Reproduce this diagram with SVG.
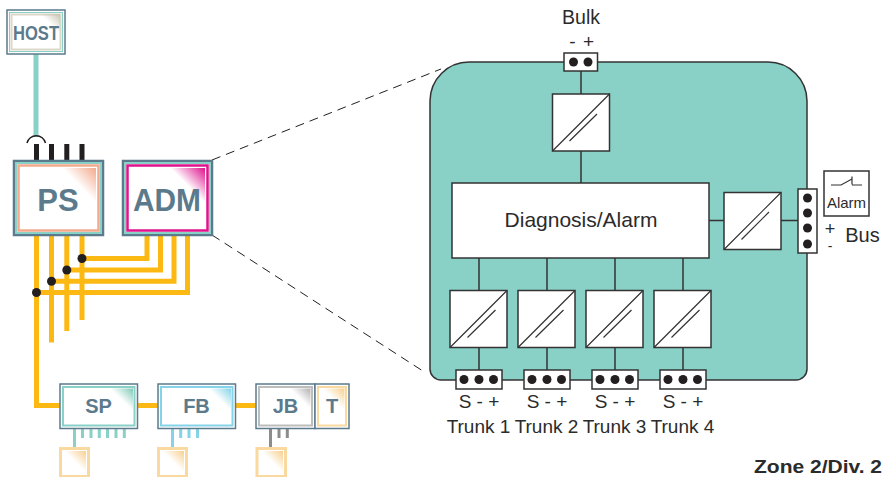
<svg xmlns="http://www.w3.org/2000/svg" width="883" height="477" viewBox="0 0 883 477">
<style>
text{font-family:"Liberation Sans",Arial,sans-serif;fill:#2b2b2b}
.lbl{font-weight:bold;fill:#5b7a8c;text-anchor:middle}
.out{fill:#fff;stroke:#5b7a8c}
.y{fill:none;stroke:#fdb913;stroke-width:5;stroke-linejoin:miter}
.k{fill:none;stroke:#333;stroke-width:1.5}
.bx{fill:#fff;stroke:#333;stroke-width:1.5}
.dg{fill:none;stroke:#333;stroke-width:1.2}
.dot{fill:#231f20}
.c{text-anchor:middle;font-size:19px}
.tr{text-anchor:middle;font-size:19px}
.tp{fill:none;stroke:#89d0c6;stroke-width:3}
.tb{fill:none;stroke:#84d3e8;stroke-width:3}
.tg{fill:none;stroke:#8c8c8c;stroke-width:3}
.sm{fill:#fff;stroke:#fad9a0;stroke-width:3}
</style>
<defs>
<linearGradient id="gS" x1="1" y1="0" x2="0.5" y2="0.5"><stop offset="0" stop-color="#f4a98c"/><stop offset="1" stop-color="#f4a98c" stop-opacity="0"/></linearGradient>
<linearGradient id="gM" x1="1" y1="0" x2="0.5" y2="0.5"><stop offset="0" stop-color="#e0128c"/><stop offset="1" stop-color="#e0128c" stop-opacity="0"/></linearGradient>
<linearGradient id="gH" x1="1" y1="0" x2="0.5" y2="0.5"><stop offset="0" stop-color="#c9c5b2"/><stop offset="1" stop-color="#c9c5b2" stop-opacity="0"/></linearGradient>
<linearGradient id="gT" x1="1" y1="0" x2="0.5" y2="0.5"><stop offset="0" stop-color="#7fc9b8"/><stop offset="1" stop-color="#7fc9b8" stop-opacity="0"/></linearGradient>
<linearGradient id="gB" x1="1" y1="0" x2="0.5" y2="0.5"><stop offset="0" stop-color="#84d3e8"/><stop offset="1" stop-color="#84d3e8" stop-opacity="0"/></linearGradient>
<linearGradient id="gG" x1="1" y1="0" x2="0.5" y2="0.5"><stop offset="0" stop-color="#b0b0b0"/><stop offset="1" stop-color="#b0b0b0" stop-opacity="0"/></linearGradient>
<linearGradient id="gO" x1="1" y1="0" x2="0.5" y2="0.5"><stop offset="0" stop-color="#f8cf8e"/><stop offset="1" stop-color="#f8cf8e" stop-opacity="0"/></linearGradient>
</defs>

<g id="connectors">
<path d="M36 54V137" fill="none" stroke="#89d0c6" stroke-width="5"/>
<path d="M27 143a9.500 9.500 0 0 1 18.500 0" fill="none" stroke="#231f20" stroke-width="1.500"/>
<path d="M36.500 144V160M51.500 144V160M66.800 144V160M82 144V160" fill="none" stroke="#231f20" stroke-width="5"/>
<path class="y" d="M36.500 235V405.500H59.500M51.500 235V342.500M66.800 235V331M82 235V320"/>
<path class="y" d="M147 235V258.500H82M160.500 235V270H66.800M174 235V281.300H51.500M187.500 235V292.500H36.500"/>
<path class="y" d="M137.500 405.500H157.500M235.500 405.500H255.500"/>
<circle class="dot" cx="82" cy="258.500" r="4.500"/><circle class="dot" cx="66.800" cy="270" r="4.500"/><circle class="dot" cx="51.500" cy="281.300" r="4.500"/><circle class="dot" cx="36.500" cy="292.500" r="4.500"/>
<path class="tp" d="M74.500 429V447M82.500 429V438M91 429V438M99.300 429V438M107.500 429V438M116 429V438M124.300 429V438"/>
<path class="tb" d="M172.500 429V447M180.700 429V438M189 429V438M197.500 429V438"/>
<path class="tg" d="M270.500 429V447M279 429V438M287.300 429V438"/>
<path d="M212 160L441 69M212 235L426 373" fill="none" stroke="#231f20" stroke-width="1" stroke-dasharray="9 6"/>
</g>

<g id="host"><rect class="out" x="7" y="10" width="58" height="44" stroke-width="1.500"/><rect x="9.500" y="12.500" width="53" height="39" fill="#fff" stroke="#89d0c6" stroke-width="1"/><rect x="11.500" y="14.500" width="49" height="35" fill="#fff" stroke="#dbd8ca" stroke-width="2"/><polygon points="40,14 60,14 60,34" fill="url(#gH)"/><text class="lbl" x="36" y="40" font-size="20" textLength="46" lengthAdjust="spacingAndGlyphs">HOST</text></g>

<g id="ps"><rect class="out" x="14" y="161" width="89" height="74" stroke-width="2.500"/><rect x="16" y="163" width="85" height="70" fill="#fff" stroke="#89d0c6" stroke-width="2"/><rect x="18.500" y="165.500" width="80" height="65" fill="#fff" stroke="#f4a98c" stroke-width="2.500"/><polygon points="62,168 96,168 96,203" fill="url(#gS)"/><text class="lbl" x="58" y="211" font-size="31">PS</text></g>

<g id="adm"><rect class="out" x="123" y="161" width="89" height="74" stroke-width="2.500"/><rect x="125" y="163" width="85" height="70" fill="#fff" stroke="#89d0c6" stroke-width="2"/><rect x="127.500" y="165.500" width="80" height="65" fill="#fff" stroke="#e0128c" stroke-width="2.500"/><polygon points="170,168 205,168 205,203" fill="url(#gM)"/><text class="lbl" x="167" y="211" font-size="31" textLength="68" lengthAdjust="spacingAndGlyphs">ADM</text></g>

<g id="sp"><rect class="out" x="60" y="384" width="77.500" height="44.500" stroke-width="1.500"/><rect x="63" y="387" width="71.500" height="38.500" fill="#fff" stroke="#89d0c6" stroke-width="2"/><polygon points="110,388.500 133,388.500 133,411" fill="url(#gT)"/><text class="lbl" x="98.500" y="413" font-size="20">SP</text></g>

<g id="fb"><rect class="out" x="158" y="384" width="77.500" height="44.500" stroke-width="1.500"/><rect x="161" y="387" width="71.500" height="38.500" fill="#fff" stroke="#84d3e8" stroke-width="2"/><polygon points="208,388.500 231,388.500 231,411" fill="url(#gB)"/><text class="lbl" x="196.500" y="413" font-size="20">FB</text></g>

<g id="jb"><rect class="out" x="256" y="384" width="59" height="44.500" stroke-width="1.500"/><rect x="259" y="387" width="53" height="38.500" fill="#fff" stroke="#bdbdbd" stroke-width="2"/><polygon points="290,388.500 310.500,388.500 310.500,409" fill="url(#gG)"/><text class="lbl" x="285.500" y="413" font-size="20">JB</text></g>

<g id="t"><rect class="out" x="315" y="384" width="34" height="44.500" stroke-width="1.500"/><rect x="318" y="387" width="28" height="38.500" fill="#fff" stroke="#fad9a0" stroke-width="2"/><polygon points="322,388.500 344.500,388.500 344.500,411" fill="url(#gO)"/><text class="lbl" x="332" y="413" font-size="20">T</text></g>

<g id="sensor1"><rect class="sm" x="60.500" y="448.500" width="28" height="28"/><polygon points="64,451 86,451 86,473" fill="url(#gO)"/></g>
<g id="sensor2"><rect class="sm" x="158.500" y="448.500" width="28" height="28"/><polygon points="162,451 184,451 184,473" fill="url(#gO)"/></g>
<g id="sensor3"><rect class="sm" x="257" y="448.500" width="28.500" height="28"/><polygon points="261,451 283,451 283,473" fill="url(#gO)"/></g>

<g id="panel"><path d="M469 62H768A39 39 0 0 1 807 101V369A11 11 0 0 1 796 380H441A11 11 0 0 1 430 369V101A39 39 0 0 1 469 62Z" fill="#89d0c6" stroke="#333" stroke-width="1.500"/></g>

<g id="wires">
<path class="k" d="M581 71V94M581 151V183M709 220.500H724M781 220.500H798M479 258V290.500M547 258V290.500M615 258V290.500M683 258V290.500M479 347V370M547 347V370M615 347V370M683 347V370"/>
</g>

<g id="bulk"><rect class="bx" x="564" y="53" width="33.500" height="18"/><circle class="dot" cx="573.500" cy="62" r="4.500"/><circle class="dot" cx="588" cy="62" r="4.500"/>
<text x="581" y="24" class="c" style="font-size:19.500px">Bulk</text><text x="572.500" y="48" class="c">-</text><text x="588.500" y="48" class="c">+</text></g>

<g id="conv-top"><rect class="bx" x="552.500" y="94" width="57" height="57"/><path class="dg" d="M552.500 151L609.500 94M569.500 141L597 114"/></g>
<g id="diagnosis"><rect class="bx" x="452" y="183" width="257" height="75"/><text x="581" y="227" class="c" style="font-size:21px">Diagnosis/Alarm</text></g>
<g id="conv-right"><rect class="bx" x="724" y="192.500" width="57" height="57"/><path class="dg" d="M724 249.500L781 192.500M741.500 239.500L769 212"/></g>
<g id="bus-term"><rect class="bx" x="798" y="189" width="19" height="64"/><circle class="dot" cx="807.500" cy="198" r="4.500"/><circle class="dot" cx="807.500" cy="213" r="4.500"/><circle class="dot" cx="807.500" cy="228" r="4.500"/><circle class="dot" cx="807.500" cy="244" r="4.500"/>
<text x="830" y="234.500" class="c" style="font-size:18px">+</text><text x="830" y="251" class="c" style="font-size:14px">-</text><text x="862.500" y="242" class="c" style="font-size:20px">Bus</text></g>
<g id="alarm"><rect x="824" y="171" width="45" height="45" fill="#fff" stroke="#333" stroke-width="1.500"/><path d="M831 185H841L852 179M852 184.500V176.500M852 185H862" fill="none" stroke="#333" stroke-width="1.200"/><text x="846.500" y="208" text-anchor="middle" font-size="15">Alarm</text></g>

<g id="trunk1"><rect class="bx" x="450" y="290.500" width="57" height="57"/><path class="dg" d="M450 347.500L507 290.500M467.500 337.500L495.500 310"/><rect class="bx" x="456" y="370" width="46" height="19"/><circle class="dot" cx="464" cy="379.500" r="4.500"/><circle class="dot" cx="479" cy="379.500" r="4.500"/><circle class="dot" cx="493.500" cy="379.500" r="4.500"/><text x="479" y="408" class="c">S - +</text><text x="478.500" y="433" class="tr">Trunk 1</text></g>
<g id="trunk2"><rect class="bx" x="518" y="290.500" width="57" height="57"/><path class="dg" d="M518 347.500L575 290.500M535.500 337.500L563.500 310"/><rect class="bx" x="524" y="370" width="46" height="19"/><circle class="dot" cx="532" cy="379.500" r="4.500"/><circle class="dot" cx="547" cy="379.500" r="4.500"/><circle class="dot" cx="561.500" cy="379.500" r="4.500"/><text x="547" y="408" class="c">S - +</text><text x="546.500" y="433" class="tr">Trunk 2</text></g>
<g id="trunk3"><rect class="bx" x="586" y="290.500" width="57" height="57"/><path class="dg" d="M586 347.500L643 290.500M603.500 337.500L631.500 310"/><rect class="bx" x="592" y="370" width="46" height="19"/><circle class="dot" cx="600" cy="379.500" r="4.500"/><circle class="dot" cx="615" cy="379.500" r="4.500"/><circle class="dot" cx="629.500" cy="379.500" r="4.500"/><text x="615" y="408" class="c">S - +</text><text x="614.500" y="433" class="tr">Trunk 3</text></g>
<g id="trunk4"><rect class="bx" x="654" y="290.500" width="57" height="57"/><path class="dg" d="M654 347.500L711 290.500M671.500 337.500L699.500 310"/><rect class="bx" x="660" y="370" width="46" height="19"/><circle class="dot" cx="668" cy="379.500" r="4.500"/><circle class="dot" cx="683" cy="379.500" r="4.500"/><circle class="dot" cx="697.500" cy="379.500" r="4.500"/><text x="683" y="408" class="c">S - +</text><text x="682.500" y="433" class="tr">Trunk 4</text></g>

<text x="754" y="473" font-size="18.500" font-weight="bold" textLength="128" lengthAdjust="spacingAndGlyphs">Zone 2/Div. 2</text>
</svg>
